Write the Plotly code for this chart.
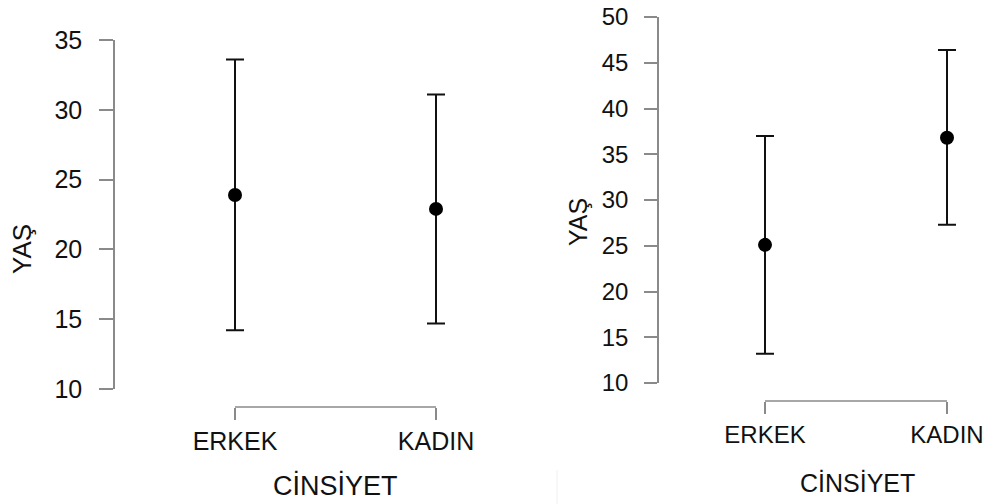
import plotly.graph_objects as go

categories = ["ERKEK", "KADIN"]
cat_pos = [1, 2]

# Left panel
left_mean = [23.9, 22.9]
left_low = [14.2, 14.7]
left_high = [33.6, 31.1]
left_ticks = [10, 15, 20, 25, 30, 35]

# Right panel
right_mean = [25.1, 36.8]
right_low = [13.2, 27.3]
right_high = [37.0, 46.4]
right_ticks = [10, 15, 20, 25, 30, 35, 40, 45, 50]

W, H = 990, 504
FONT = "Liberation Sans, Arial, sans-serif"
TXT = "#111111"
AX = "#8a8a8a"

def px(x):
    return x / W

def py(y):
    return 1 - y / H

fig = go.Figure()

def add_panel(mean, low, high, xa, ya):
    fig.add_trace(go.Scatter(
        x=cat_pos, y=mean, mode="markers",
        marker=dict(color="#000000", size=14, symbol="circle"),
        error_y=dict(type="data", symmetric=False,
                     array=[h - m for h, m in zip(high, mean)],
                     arrayminus=[m - l for m, l in zip(mean, low)],
                     color="#111111", thickness=2, width=9),
        xaxis=xa, yaxis=ya, showlegend=False, cliponaxis=False,
    ))

add_panel(left_mean, left_low, left_high, "x", "y")
add_panel(right_mean, right_low, right_high, "x2", "y2")

tf_left = dict(family=FONT, size=25, color=TXT)
tf_right = dict(family=FONT, size=24, color=TXT)

fig.update_layout(
    width=W, height=H,
    margin=dict(l=0, r=0, t=0, b=0, autoexpand=False),
    paper_bgcolor="white", plot_bgcolor="white",
    showlegend=False,
    xaxis=dict(domain=[px(134.5), px(536.5)], range=[0.5, 2.5],
               anchor="free", position=py(407), automargin=False,
               tickvals=cat_pos, ticktext=categories,
               ticks="outside", ticklen=12, tickwidth=1.5, tickcolor=AX,
               showline=False, showgrid=False, zeroline=False,
               tickfont=tf_left, ticklabelstandoff=0),
    yaxis=dict(domain=[py(389), py(40)], range=[10, 35],
               anchor="free", position=px(114), automargin=False,
               tickvals=left_ticks,
               ticks="outside", ticklen=14, tickwidth=1.5, tickcolor=AX,
               showline=True, linecolor=AX, linewidth=1.5,
               showgrid=False, zeroline=False,
               tickfont=tf_left, ticklabelstandoff=12),
    xaxis2=dict(domain=[px(674), px(983.4)], range=[0.5, 2.2],
                anchor="free", position=py(401), automargin=False,
                tickvals=cat_pos, ticktext=categories,
                ticks="outside", ticklen=12, tickwidth=1.5, tickcolor=AX,
                showline=False, showgrid=False, zeroline=False,
                tickfont=tf_right, ticklabelstandoff=0),
    yaxis2=dict(domain=[py(383), py(17)], range=[10, 50],
                anchor="free", position=px(658), automargin=False,
                tickvals=right_ticks,
                ticks="outside", ticklen=13, tickwidth=1.5, tickcolor=AX,
                showline=True, linecolor=AX, linewidth=1.5,
                showgrid=False, zeroline=False,
                tickfont=tf_right, ticklabelstandoff=11),
)

# x-axis bracket lines (span first to last category)
fig.add_shape(type="line", xref="x", yref="paper",
              x0=cat_pos[0], x1=cat_pos[-1], y0=py(407), y1=py(407),
              line=dict(color=AX, width=1.5))
fig.add_shape(type="line", xref="x2", yref="paper",
              x0=cat_pos[0], x1=cat_pos[-1], y0=py(401), y1=py(401),
              line=dict(color=AX, width=1.5))

# faint separator
fig.add_shape(type="line", xref="paper", yref="paper",
              x0=px(557), x1=px(557), y0=py(470), y1=0,
              line=dict(color="#f0f0f0", width=1))

fig.add_annotation(text="YAŞ", xref="paper", yref="paper", x=px(22), y=py(249),
                   textangle=-90, showarrow=False,
                   font=dict(family=FONT, size=26, color=TXT),
                   xanchor="center", yanchor="middle")
fig.add_annotation(text="YAŞ", xref="paper", yref="paper", x=px(578), y=py(222),
                   textangle=-90, showarrow=False,
                   font=dict(family=FONT, size=25, color=TXT),
                   xanchor="center", yanchor="middle")
fig.add_annotation(text="CİNSİYET", xref="paper", yref="paper", x=px(335), y=py(485),
                   showarrow=False, font=dict(family=FONT, size=27, color=TXT),
                   xanchor="center", yanchor="middle")
fig.add_annotation(text="CİNSİYET", xref="paper", yref="paper", x=px(857), y=py(483),
                   showarrow=False, font=dict(family=FONT, size=25, color=TXT),
                   xanchor="center", yanchor="middle")

fig.write_html("out.html",
               config={"displayModeBar": False},
               post_script="document.body.style.margin='0';document.body.style.padding='0';")
